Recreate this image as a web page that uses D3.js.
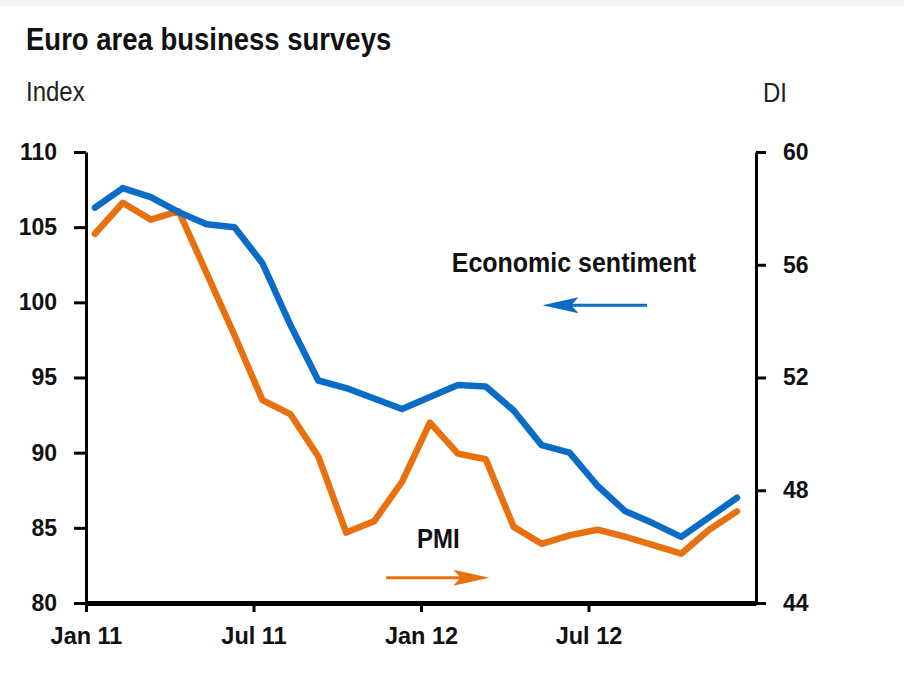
<!DOCTYPE html>
<html>
<head>
<meta charset="utf-8">
<script src="https://cdn.jsdelivr.net/npm/d3@7"></script>
<style>
body { margin: 0; background: #fff; }
svg { display: block; font-family: "Liberation Sans", Arial, sans-serif; }
</style>
</head>
<body>
<svg id="chart" width="904" height="677"></svg>
<script>
// monthly data, Jan 11 - Dec 12
var months = ["Jan 11", "Feb 11", "Mar 11", "Apr 11", "May 11", "Jun 11",
              "Jul 11", "Aug 11", "Sep 11", "Oct 11", "Nov 11", "Dec 11",
              "Jan 12", "Feb 12", "Mar 12", "Apr 12", "May 12", "Jun 12",
              "Jul 12", "Aug 12", "Sep 12", "Oct 12", "Nov 12", "Dec 12"];

// economic sentiment (index, left axis)
var sentiment = [106.3, 107.6, 107.0, 106.0, 105.2, 105.0, 102.6, 98.5,
                 94.8, 94.3, 93.6, 92.9, 93.7, 94.5, 94.4, 92.8,
                 90.5, 90.0, 87.8, 86.1, 85.3, 84.4, 85.7, 87.0];

// PMI (diffusion index, right axis)
var pmi = [57.1, 58.2, 57.6, 57.9, 55.7, 53.5, 51.2, 50.7,
           49.2, 46.5, 46.9, 48.3, 50.4, 49.3, 49.1, 46.7,
           46.1, 46.4, 46.6, 46.35, 46.05, 45.75, 46.6, 47.25];

// axis ticks
var xTickLabels = ["Jan 11", "Jul 11", "Jan 12", "Jul 12"];
var indexTicks = [80, 85, 90, 95, 100, 105, 110];
var diTicks = [44, 48, 52, 56, 60];

var svg = d3.select("#chart");
var plotLeft = 86, plotRight = 756, plotTop = 152, plotBottom = 603;
var blue = "#0a6cc6", orange = "#e8700f";

// light strip at the very top
svg.append("rect").attr("x", 0).attr("y", 0).attr("width", 904).attr("height", 6).attr("fill", "#f3f3f3");

// scales (x in months from Jan 11)
var x = d3.scaleLinear().domain([0, 24]).range([plotLeft, plotRight]);
var yL = d3.scaleLinear().domain([80, 110]).range([plotBottom, plotTop]);
var yR = d3.scaleLinear().domain([44, 60]).range([plotBottom, plotTop]);
var offset = 0.32; // points sit a little after the month tick

// text a bit taller than wide, like the original
function label(px, py, txt, size, bold) {
    return svg.append("text")
        .attr("transform", "translate(" + px + "," + py + ") scale(1,1.12)")
        .attr("font-size", size)
        .attr("font-weight", bold ? "bold" : "normal")
        .attr("fill", "#111")
        .text(txt);
}

// titles
label(26, 50, "Euro area business surveys", 27.5, true);
label(26, 101, "Index", 24, false).attr("fill", "#222");
label(763, 102, "DI", 24, false).attr("fill", "#222");

// left axis
var gL = svg.append("g")
    .attr("transform", "translate(" + plotLeft + ",0)")
    .call(d3.axisLeft(yL).tickValues(indexTicks).tickSize(12).tickSizeOuter(0).tickPadding(17));

// right axis
var gR = svg.append("g")
    .attr("transform", "translate(" + plotRight + ",0)")
    .call(d3.axisRight(yR).tickValues(diTicks).tickSize(10).tickSizeOuter(0).tickPadding(17));

[gL, gR].forEach(function (g) {
    g.select(".domain").attr("stroke", "#000").attr("stroke-width", 3);
    g.selectAll(".tick line").attr("stroke", "#000").attr("stroke-width", 3);
    g.selectAll(".tick text")
        .attr("font-size", 23).attr("font-weight", "bold").attr("fill", "#111")
        .attr("font-family", "Liberation Sans, Arial, sans-serif");
});

// bottom axis
var gX = svg.append("g")
    .attr("transform", "translate(0," + plotBottom + ")")
    .call(d3.axisBottom(x)
        .tickValues([0, 6, 12, 18])
        .tickFormat(function (d, i) { return xTickLabels[i]; })
        .tickSize(9).tickSizeOuter(0).tickPadding(15));

gX.select(".domain").attr("stroke", "#000").attr("stroke-width", 5);
gX.selectAll(".tick line").attr("stroke", "#000").attr("stroke-width", 3);
gX.selectAll(".tick text")
    .attr("font-size", 23.5).attr("font-weight", "bold").attr("fill", "#111")
    .attr("font-family", "Liberation Sans, Arial, sans-serif");

// lines
var lineL = d3.line()
    .x(function (d, i) { return x(i + offset); })
    .y(function (d) { return yL(d); });

var lineR = d3.line()
    .x(function (d, i) { return x(i + offset); })
    .y(function (d) { return yR(d); });

svg.append("path")
    .datum(pmi)
    .attr("d", lineR)
    .attr("fill", "none")
    .attr("stroke", orange)
    .attr("stroke-width", 6.5)
    .attr("stroke-linejoin", "round")
    .attr("stroke-linecap", "round");

svg.append("path")
    .datum(sentiment)
    .attr("d", lineL)
    .attr("fill", "none")
    .attr("stroke", blue)
    .attr("stroke-width", 6.5)
    .attr("stroke-linejoin", "round")
    .attr("stroke-linecap", "round");

// annotations
label(x(13.1), yL(102), "Economic sentiment", 25, true);
label(x(11.86), yR(45.95), "PMI", 24, true);

// arrow helper: shaft from x0 to x1, head pointing at x1
function arrow(x0, x1, y, colour) {
    var dir = x1 > x0 ? 1 : -1;
    var headLen = 36, headHalf = 8;
    svg.append("line")
        .attr("x1", x0).attr("x2", x1 - dir * headLen * 0.6)
        .attr("y1", y).attr("y2", y)
        .attr("stroke", colour).attr("stroke-width", 3);
    svg.append("path")
        .attr("d", "M" + x1 + "," + y +
                   "L" + (x1 - dir * headLen) + "," + (y - headHalf) +
                   "L" + (x1 - dir * headLen * 0.8) + "," + y +
                   "L" + (x1 - dir * headLen) + "," + (y + headHalf) + "Z")
        .attr("fill", colour);
}

arrow(x(20.1), x(16.35), yL(99.8), blue);
arrow(x(10.75), x(14.45), yR(44.9), orange);
</script>
</body>
</html>
